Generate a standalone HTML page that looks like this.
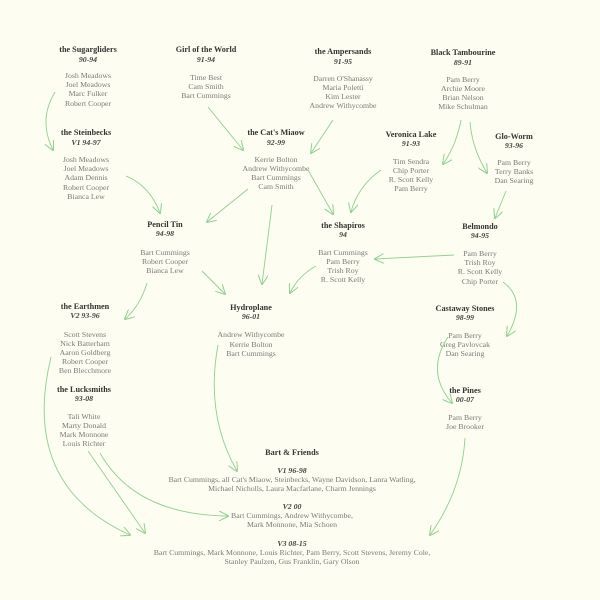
<!DOCTYPE html>
<html><head><meta charset="utf-8"><style>
html,body{margin:0;padding:0;background:#fdfdf1;}
svg{display:block}
.t{font-family:"Liberation Serif",serif;font-size:8.2px;font-weight:bold;fill:#333;text-anchor:middle}
.y{font-family:"Liberation Serif",serif;font-size:7.8px;font-style:italic;font-weight:bold;fill:#444;text-anchor:middle}
.n{font-family:"Liberation Serif",serif;font-size:7.8px;fill:#7a7a7a;text-anchor:middle}
.a{fill:none;stroke:#8fd08f;stroke-width:0.9}
</style></head><body>
<svg width="600" height="600" viewBox="0 0 600 600" xmlns="http://www.w3.org/2000/svg">
<defs><marker id="m" viewBox="0 0 10 10" refX="9" refY="5" markerWidth="10" markerHeight="10" orient="auto" markerUnits="userSpaceOnUse"><path d="M0,0 L10,5 L0,10" fill="none" stroke="#8fd08f" stroke-width="1"/></marker></defs>

<g>
<text class="t" x="88" y="52">the Sugargliders</text><text class="y" x="88" y="62">90-94</text>
<text class="n" x="88" y="78">Josh Meadows</text><text class="n" x="88" y="87">Joel Meadows</text><text class="n" x="88" y="96">Marc Fulker</text><text class="n" x="88" y="106">Robert Cooper</text>

<text class="t" x="206" y="52">Girl of the World</text><text class="y" x="206" y="62">91-94</text>
<text class="n" x="206" y="80">Time Best</text><text class="n" x="206" y="89">Cam Smith</text><text class="n" x="206" y="98">Bart Cummings</text>

<text class="t" x="343" y="54">the Ampersands</text><text class="y" x="343" y="64">91-95</text>
<text class="n" x="343" y="81">Darren O'Shanassy</text><text class="n" x="343" y="90">Maria Poletti</text><text class="n" x="343" y="99">Kim Lester</text><text class="n" x="343" y="108">Andrew Withycombe</text>

<text class="t" x="463" y="55">Black Tambourine</text><text class="y" x="463" y="65">89-91</text>
<text class="n" x="463" y="82">Pam Berry</text><text class="n" x="463" y="91">Archie Moore</text><text class="n" x="463" y="100">Brian Nelson</text><text class="n" x="463" y="109">Mike Schulman</text>

<text class="t" x="86" y="135">the Steinbecks</text><text class="y" x="86" y="145">V1 94-97</text>
<text class="n" x="86" y="162">Josh Meadows</text><text class="n" x="86" y="171">Joel Meadows</text><text class="n" x="86" y="180">Adam Dennis</text><text class="n" x="86" y="190">Robert Cooper</text><text class="n" x="86" y="199">Bianca Lew</text>

<text class="t" x="276" y="135">the Cat's Miaow</text><text class="y" x="276" y="145">92-99</text>
<text class="n" x="276" y="162">Kerrie Bolton</text><text class="n" x="276" y="171">Andrew Withycombe</text><text class="n" x="276" y="180">Bart Cummings</text><text class="n" x="276" y="189">Cam Smith</text>

<text class="t" x="411" y="137">Veronica Lake</text><text class="y" x="411" y="146">91-93</text>
<text class="n" x="411" y="164">Tim Sendra</text><text class="n" x="411" y="173">Chip Porter</text><text class="n" x="411" y="182">R. Scott Kelly</text><text class="n" x="411" y="191">Pam Berry</text>

<text class="t" x="514" y="139">Glo-Worm</text><text class="y" x="514" y="148">93-96</text>
<text class="n" x="514" y="165">Pam Berry</text><text class="n" x="514" y="174">Terry Banks</text><text class="n" x="514" y="183">Dan Searing</text>

<text class="t" x="165" y="227">Pencil Tin</text><text class="y" x="165" y="236">94-98</text>
<text class="n" x="165" y="255">Bart Cummings</text><text class="n" x="165" y="264">Robert Cooper</text><text class="n" x="165" y="273">Bianca Lew</text>

<text class="t" x="343" y="228">the Shapiros</text><text class="y" x="343" y="237">94</text>
<text class="n" x="343" y="255">Bart Cummings</text><text class="n" x="343" y="264">Pam Berry</text><text class="n" x="343" y="273">Trish Roy</text><text class="n" x="343" y="282">R. Scott Kelly</text>

<text class="t" x="480" y="229">Belmondo</text><text class="y" x="480" y="238">94-95</text>
<text class="n" x="480" y="256">Pam Berry</text><text class="n" x="480" y="265">Trish Roy</text><text class="n" x="480" y="274">R. Scott Kelly</text><text class="n" x="480" y="284">Chip Porter</text>

<text class="t" x="85" y="309">the Earthmen</text><text class="y" x="85" y="318">V2 93-96</text>
<text class="n" x="85" y="337">Scott Stevens</text><text class="n" x="85" y="346">Nick Batterham</text><text class="n" x="85" y="355">Aaron Goldberg</text><text class="n" x="85" y="364">Robert Cooper</text><text class="n" x="85" y="373">Ben Blecchmore</text>

<text class="t" x="251" y="310">Hydroplane</text><text class="y" x="251" y="319">96-01</text>
<text class="n" x="251" y="337">Andrew Withycombe</text><text class="n" x="251" y="347">Kerrie Bolton</text><text class="n" x="251" y="356">Bart Cummings</text>

<text class="t" x="465" y="311">Castaway Stones</text><text class="y" x="465" y="320">98-99</text>
<text class="n" x="465" y="338">Pam Berry</text><text class="n" x="465" y="347">Greg Pavlovcak</text><text class="n" x="465" y="356">Dan Searing</text>

<text class="t" x="84" y="392">the Lucksmiths</text><text class="y" x="84" y="401">93-08</text>
<text class="n" x="84" y="419">Tali White</text><text class="n" x="84" y="428">Marty Donald</text><text class="n" x="84" y="437">Mark Monnone</text><text class="n" x="84" y="446">Louis Richter</text>

<text class="t" x="465" y="393">the Pines</text><text class="y" x="465" y="402">00-07</text>
<text class="n" x="465" y="420">Pam Berry</text><text class="n" x="465" y="429">Joe Brooker</text>

<text class="t" x="292" y="455">Bart &amp; Friends</text>
<text class="y" x="292" y="473">V1 96-98</text>
<text class="n" x="292" y="482">Bart Cummings, all Cat's Miaow, Steinbecks, Wayne Davidson, Lanra Watling,</text>
<text class="n" x="292" y="491">Michael Nicholls, Laura Macfarlane, Charm Jennings</text>
<text class="y" x="292" y="509">V2 00</text>
<text class="n" x="292" y="518">Bart Cummings, Andrew Withycombe,</text>
<text class="n" x="292" y="527">Mark Monnone, Mia Schoen</text>
<text class="y" x="292" y="546">V3 08-15</text>
<text class="n" x="292" y="555">Bart Cummings, Mark Monnone, Louis Richter, Pam Berry, Scott Stevens, Jeremy Cole,</text>
<text class="n" x="292" y="564">Stanley Paulzen, Gus Franklin, Gary Olson</text>
</g>

<g marker-end="url(#m)">
<path class="a" d="M55,92 Q38,120 53,150"/>
<path class="a" d="M126,176 Q150,186 160,213"/>
<path class="a" d="M208,107 Q225,128 243,150"/>
<path class="a" d="M248,189 L207,222"/>
<path class="a" d="M272,205 L262,284"/>
<path class="a" d="M202,271 L225,294"/>
<path class="a" d="M308,170 L333,214"/>
<path class="a" d="M316,266 Q298,276 290,293"/>
<path class="a" d="M333,120 L311,153"/>
<path class="a" d="M381,170 Q358,186 351,212"/>
<path class="a" d="M461,120 Q456,146 443,164"/>
<path class="a" d="M470,122 Q472,148 487,173"/>
<path class="a" d="M506,191 L495,218"/>
<path class="a" d="M454,255 L375,259"/>
<path class="a" d="M503,282 Q528,300 507,336"/>
<path class="a" d="M448,337 Q425,372 452,403"/>
<path class="a" d="M465,438 Q462,490 430,535"/>
<path class="a" d="M147,283 Q140,306 125,319"/>
<path class="a" d="M218,345 Q205,415 237,471"/>
<path class="a" d="M51,357 Q20,485 130,535"/>
<path class="a" d="M88,451 L145,533"/>
<path class="a" d="M100,453 Q135,515 228,516"/>
</g>
</svg>
</body></html>
